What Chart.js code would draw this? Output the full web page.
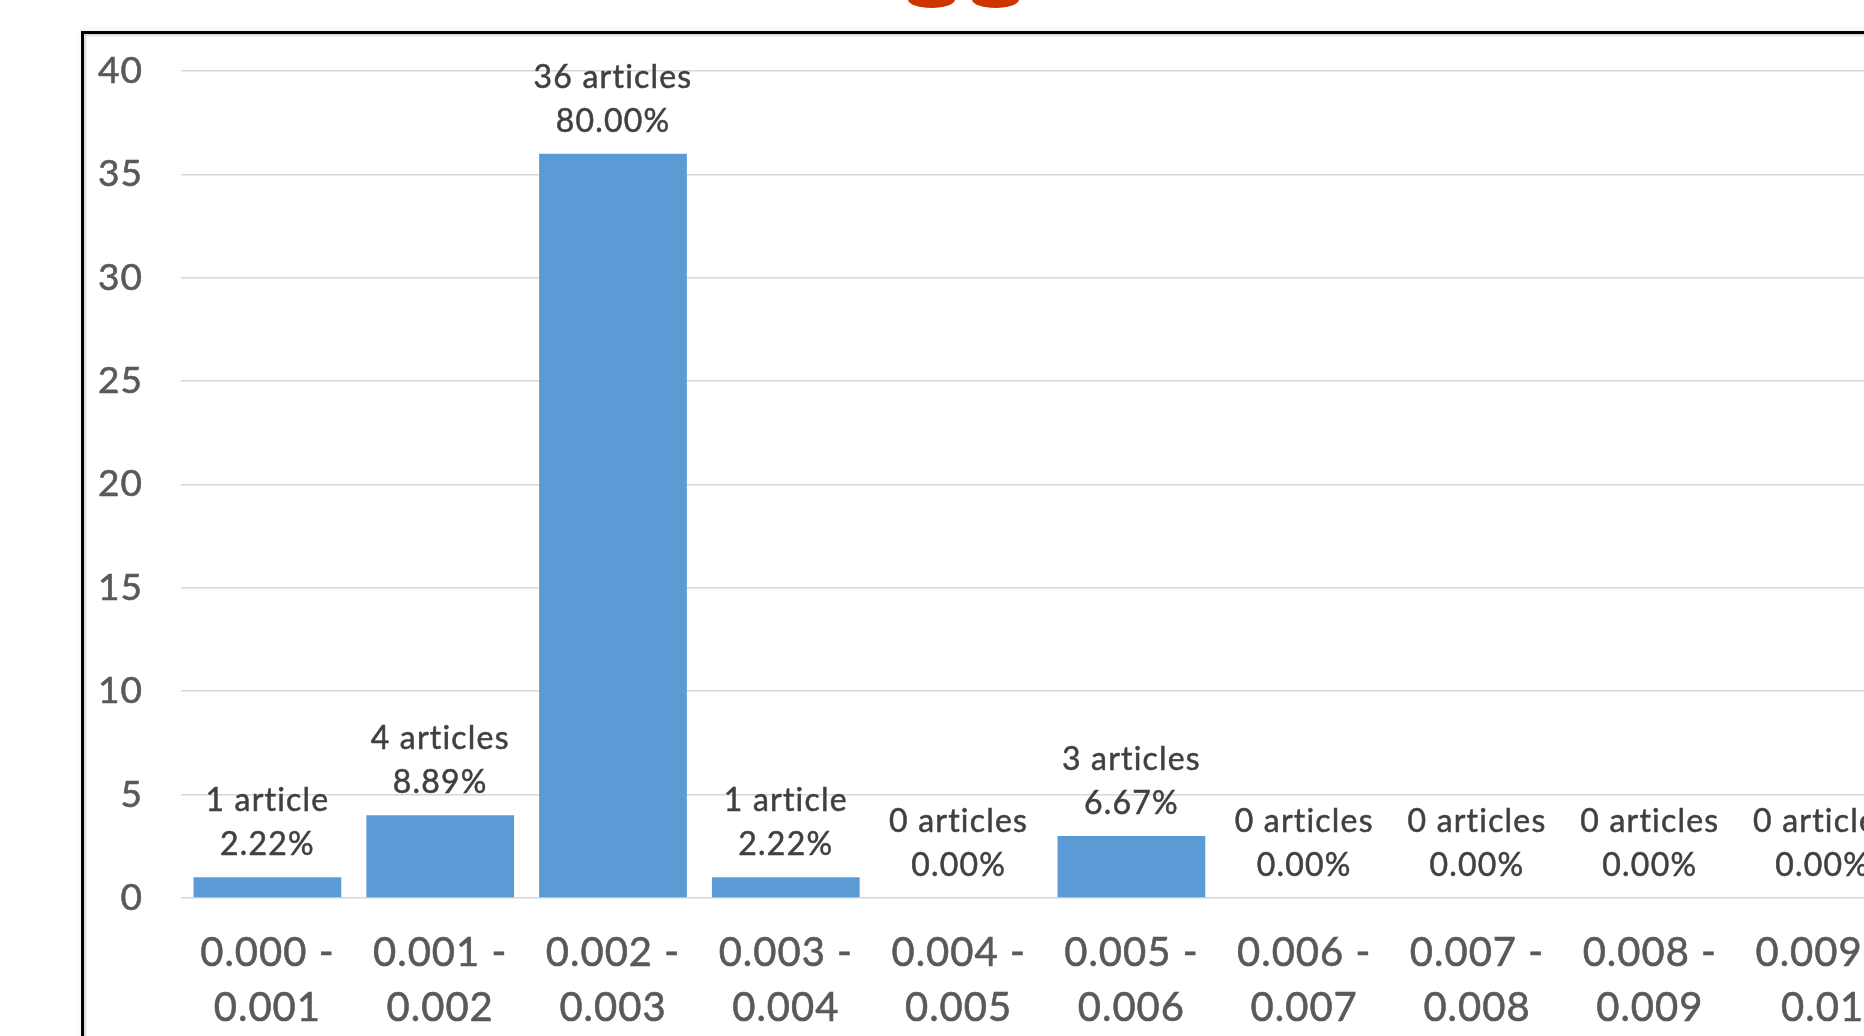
<!DOCTYPE html>
<html>
<head>
<meta charset="utf-8">
<script src="https://cdn.jsdelivr.net/npm/chart.js@4.4.1/dist/chart.umd.min.js"></script>
<style>
  html, body { margin: 0; padding: 0; background: #fff; }
  #wrap { position: relative; width: 1864px; height: 1036px; overflow: hidden; }
  #c { position: absolute; left: 0; top: 0; }
  .frame { position: absolute; left: 81px; top: 31px; width: 2000px; height: 1200px;
    border-left: 3px solid #000; border-top: 3px solid #000;
    box-shadow: inset 2px 2px 2px rgba(0,0,0,0.15), 0 -3px 5px rgba(0,0,0,0.05); pointer-events: none; }
  .blob { position: absolute; top: -9px; width: 47px; height: 17px; border-radius: 50%; background: #cd3500; }
</style>
</head>
<body>
<div id="wrap">
  <canvas id="c" width="1989" height="1036"></canvas>
  <div class="frame"></div>
  <div class="blob" style="left:908px"></div>
  <div class="blob" style="left:972px"></div>
</div>
<script>
// rangos de la distribucion
const categorias = [
  ['0.000 -', '0.001'], ['0.001 -', '0.002'], ['0.002 -', '0.003'], ['0.003 -', '0.004'],
  ['0.004 -', '0.005'], ['0.005 -', '0.006'], ['0.006 -', '0.007'], ['0.007 -', '0.008'],
  ['0.008 -', '0.009'], ['0.009 -', '0.01']
];
const articulos = [1, 4, 36, 1, 0, 3, 0, 0, 0, 0];
const ticksY = [0, 5, 10, 15, 20, 25, 30, 35, 40];

const total = articulos.reduce((a, b) => a + b, 0);

// un poco de espaciado para parecerse a Calibri
const espaciado = {
  id: 'espaciado',
  beforeDraw(chart) { chart.ctx.letterSpacing = '1px'; }
};

// etiquetas encima de cada barra (2 lineas)
const etiquetasBarras = {
  id: 'etiquetasBarras',
  afterDatasetsDraw(chart) {
    const ctx = chart.ctx;
    const meta = chart.getDatasetMeta(0);
    ctx.save();
    ctx.font = '32px Lato';
    ctx.letterSpacing = '1.2px';
    ctx.fillStyle = '#404040';
    ctx.strokeStyle = '#404040';
    ctx.lineWidth = 0.5;
    ctx.textAlign = 'center';
    ctx.textBaseline = 'alphabetic';
    meta.data.forEach((bar, i) => {
      const n = articulos[i];
      const l1 = n + (n === 1 ? ' article' : ' articles');
      const l2 = (n / total * 100).toFixed(2) + '%';
      const base = bar.y - 22;
      ctx.fillText(l2, bar.x, base);
      ctx.strokeText(l2, bar.x, base);
      ctx.fillText(l1, bar.x, base - 44);
      ctx.strokeText(l1, bar.x, base - 44);
    });
    ctx.restore();
  }
};

new Chart(document.getElementById('c'), {
  type: 'bar',
  data: {
    labels: categorias,
    datasets: [{
      data: articulos,
      backgroundColor: '#5b9bd5',
      borderWidth: 0,
      categoryPercentage: 1,
      barPercentage: 0.855
    }]
  },
  options: {
    responsive: false,
    animation: false,
    layout: { padding: { top: 71, right: 80, left: 0, bottom: 0 } },
    plugins: { legend: { display: false }, tooltip: { enabled: false } },
    scales: {
      x: {
        grid: { display: false, drawTicks: false },
        border: { display: false },
        ticks: { color: '#595959', textStrokeColor: '#595959', textStrokeWidth: 0.6,
          font: { family: 'Lato', size: 40, lineHeight: 1.39 }, padding: 27, maxRotation: 0, autoSkip: false },
        afterFit: s => { s.height = 138; }
      },
      y: {
        min: 0, max: 40,
        afterBuildTicks: s => { s.ticks = ticksY.map(v => ({ value: v })); },
        grid: { color: '#d6d6d6', lineWidth: 1.6, drawTicks: false },
        border: { display: false },
        ticks: { color: '#595959', textStrokeColor: '#595959', textStrokeWidth: 0.6,
          font: { family: 'Lato', size: 37 }, padding: 38 },
        afterFit: s => { s.width = 181; }
      }
    }
  },
  plugins: [espaciado, etiquetasBarras]
});
</script>
</body>
</html>
